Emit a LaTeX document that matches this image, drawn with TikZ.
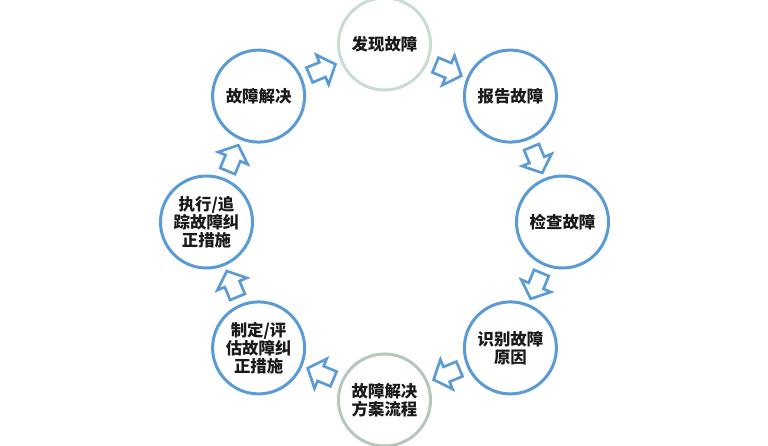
\documentclass[tikz,border=0pt]{standalone}
\usepackage{fontspec}
\setmainfont{Noto Sans CJK SC}
\usetikzlibrary{calc}

\definecolor{ringblue}{HTML}{5B9BD5}
\definecolor{ringgreen}{HTML}{C8DDCF}
\definecolor{ringgray}{HTML}{B2C9BB}
\definecolor{txt}{HTML}{1A1A1A}

\tikzset{
  stage/.style={circle, draw=ringblue, line width=0.09cm, minimum size=2.76cm,
    inner sep=0pt, align=center, text=txt, font=\fontsize{14}{15.5}\selectfont\bfseries},
  blockarrow/.style={draw=ringblue, line width=0.08cm, line join=miter, fill=white},
}

\begin{document}
\begin{tikzpicture}[x=0.03cm, y=0.03cm]
        \useasboundingbox (0,0) rectangle (768,445);

        % Stages of the fault cycle
        \node[stage, draw=ringgreen] (find) at (384.5,401) {发现故障};
        \node[stage] (report) at (510.4,348.9) {报告故障};
        \node[stage] (check) at (562.5,223) {检查故障};
        \node[stage] (cause) at (510.4,97.1) {识别故障\\原因};
        \node[stage, draw=ringgray] (plan) at (384.5,45) {故障解决\\方案流程};
        \node[stage] (define) at (258.6,97.1) {制定/评\\估故障纠\\正措施};
        \node[stage] (track) at (206.5,223) {执行/追\\踪故障纠\\正措施};
        \node[stage] (solved) at (258.6,348.9) {故障解决};

        % Hollow block arrows between stages (clockwise)
        \foreach \a/\b/\ang in {find/report/-22.5, report/check/-67.5, check/cause/-112.5,
            cause/plan/-157.5, plan/define/157.5, define/track/112.5, track/solved/67.5, solved/find/22.5} {
                \path ($(\a)!0.5!(\b)$) coordinate (mid);
                \draw[blockarrow, shift={(mid)}, rotate=\ang]
                    (-13,-8) -- (1,-8) -- (1,-16) -- (15,0) -- (1,16) -- (1,8) -- (-13,8) -- cycle;
            }
    \end{tikzpicture}
\end{document}
